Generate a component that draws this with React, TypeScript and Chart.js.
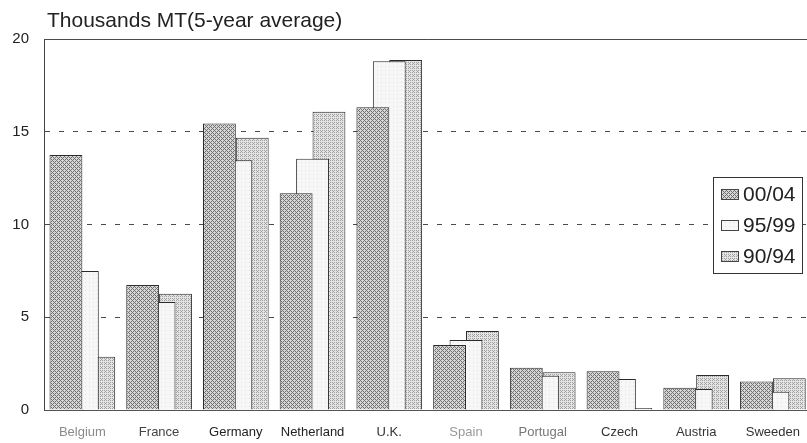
import { useEffect, useRef } from "react";
import { Chart, registerables } from "chart.js";

Chart.register(...registerables);

// Five-year average volumes per country, thousands of metric tonnes
const countries = ["Belgium", "France", "Germany", "Netherland", "U.K.", "Spain", "Portugal", "Czech", "Austria", "Sweeden"];
const period0004 = [13.75, 6.74, 15.45, 11.68, 16.32, 3.5, 2.28, 2.09, 1.2, 1.53];
const period9599 = [7.49, 5.82, 13.46, 13.55, 18.8, 3.77, 1.85, 1.67, 1.13, 0.99];
const period9094 = [2.87, 6.27, 14.68, 16.08, 18.87, 4.26, 2.03, 0.11, 1.89, 1.71];
const periodLabels = ["00/04", "95/99", "90/94"];
const yMin = 0;
const yMax = 20;
const yStep = 5;
const axisTitle = "Thousands MT(5-year average)";

const FONT = "'Liberation Sans', Arial, sans-serif";
const categoryLabelColors = ["#8a8a8a", "#444", "#222", "#222", "#333", "#999", "#777", "#333", "#333", "#333"];

type PatternKind = "cross" | "plain" | "dots";

function makePattern(kind: PatternKind): CanvasPattern | string {
  const tile = document.createElement("canvas");
  tile.width = 4;
  tile.height = 4;
  const g = tile.getContext("2d");
  if (!g) return "#bbb";
  const bg = kind === "cross" ? "#d6d6d6" : kind === "dots" ? "#e4e4e4" : "#f7f7f7";
  const fg = kind === "cross" ? "#707070" : kind === "dots" ? "#a0a0a0" : "#e0e0e0";
  g.fillStyle = bg;
  g.fillRect(0, 0, 4, 4);
  g.fillStyle = fg;
  for (let x = 0; x < 4; x++) {
    for (let y = 0; y < 4; y++) {
      let on = false;
      if (kind === "cross") on = (x + y) % 4 === 0 || (x - y + 4) % 4 === 0;
      else if (kind === "dots") on = (x % 2 === 0 && y % 2 === 0) || (x === 1 && y === 3);
      else on = x === 1 && y === 2;
      if (on) g.fillRect(x, y, 1, 1);
    }
  }
  const p = g.createPattern(tile, "repeat");
  return p || bg;
}

export default function App() {
  const canvasRef = useRef<HTMLCanvasElement | null>(null);

  useEffect(() => {
    const canvas = canvasRef.current;
    if (!canvas) return;
    const fills = [makePattern("cross"), makePattern("plain"), makePattern("dots")];
    const seriesValues = [period0004, period9599, period9094];

    const titlePlugin = {
      id: "axisTitleText",
      afterDraw(chart: Chart) {
        const { ctx, chartArea } = chart;
        ctx.save();
        ctx.font = `21px ${FONT}`;
        ctx.fillStyle = "#222";
        ctx.textAlign = "left";
        ctx.textBaseline = "alphabetic";
        ctx.fillText(axisTitle, chartArea.left + 3, chartArea.top - 12);
        ctx.restore();
      },
    };

    const legendPlugin = {
      id: "boxedLegend",
      afterDraw(chart: Chart) {
        const { ctx, chartArea } = chart;
        const boxW = 89;
        const rowH = 31;
        const boxH = rowH * periodLabels.length + 3;
        const right = Math.round(chartArea.right) - 9;
        const left = right - boxW;
        const top = Math.round((chartArea.top + chartArea.bottom) / 2 - boxH / 2);
        ctx.save();
        ctx.fillStyle = "#fff";
        ctx.fillRect(left, top, boxW, boxH);
        ctx.strokeStyle = "#333";
        ctx.lineWidth = 1;
        ctx.strokeRect(left + 0.5, top + 0.5, boxW, boxH);
        ctx.font = `21px ${FONT}`;
        ctx.textAlign = "left";
        ctx.textBaseline = "middle";
        periodLabels.forEach((label, i) => {
          const cy = top + 17 + i * rowH;
          ctx.fillStyle = fills[i] as any;
          ctx.fillRect(left + 8, cy - 5, 17, 10);
          ctx.strokeStyle = "#444";
          ctx.strokeRect(left + 8.5, cy - 4.5, 17, 10);
          ctx.fillStyle = "#222";
          ctx.fillText(label, left + 30, cy + 1);
        });
        ctx.restore();
      },
    };

    const chart = new Chart(canvas, {
      type: "bar",
      data: {
        labels: countries,
        datasets: seriesValues.map((values, i) => ({
          label: periodLabels[i],
          data: values,
          backgroundColor: fills[i] as any,
          borderColor: "#2a2a2a",
          borderWidth: 1,
          borderSkipped: "start" as const,
          categoryPercentage: 0.642,
          barPercentage: 2,
        })),
      },
      options: {
        responsive: false,
        animation: false,
        devicePixelRatio: 1,
        layout: { padding: { top: 39, left: 0, right: 0, bottom: 0 } },
        plugins: {
          legend: { display: false },
          tooltip: { enabled: false },
          title: { display: false },
        },
        scales: {
          x: {
            grid: { display: false, drawTicks: false },
            border: { display: true, color: "#555", width: 1 },
            ticks: {
              padding: 15,
              color: categoryLabelColors,
              font: { family: FONT, size: 13 },
              maxRotation: 0,
              autoSkip: false,
            },
            afterFit(scale: any) {
              scale.height = 33;
            },
          },
          y: {
            min: yMin,
            max: yMax,
            grid: {
              drawTicks: false,
              color: (c: any) => (c.tick && c.tick.value === yMin ? "rgba(0,0,0,0)" : "#4a4a4a"),
              lineWidth: 1,
            },
            border: {
              display: true,
              color: "#444",
              width: 1,
              dash: (c: any) => (c && c.tick && c.tick.value === yMax ? [] : [5, 9]),
            },
            ticks: {
              stepSize: yStep,
              padding: 15,
              color: "#222",
              font: { family: FONT, size: 15 },
            },
            afterFit(scale: any) {
              scale.width = 44;
            },
          },
        },
      },
      plugins: [titlePlugin, legendPlugin],
    });

    return () => chart.destroy();
  }, []);

  return (
    <div
      style={{
        position: "fixed",
        left: 0,
        top: 0,
        width: 807,
        height: 443,
        overflow: "hidden",
        background: "#fff",
      }}
    >
      <canvas ref={canvasRef} width={815} height={443} style={{ display: "block" }} />
    </div>
  );
}
